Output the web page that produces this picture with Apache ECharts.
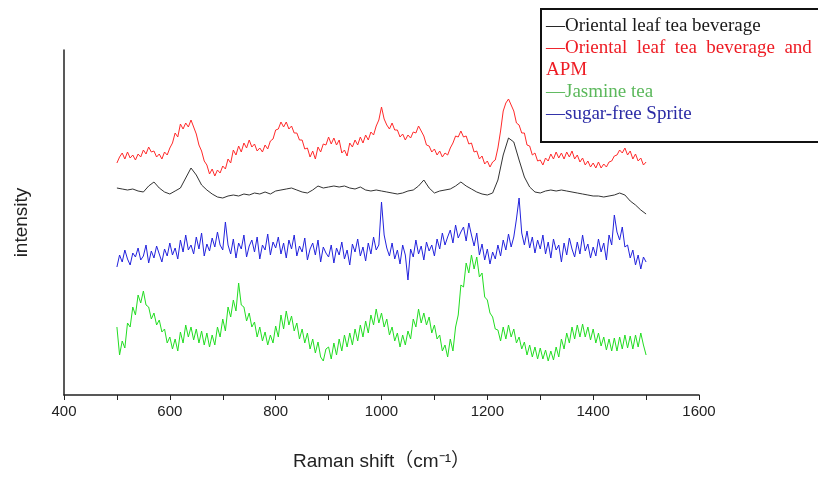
<!DOCTYPE html>
<html>
<head>
<meta charset="utf-8">
<title>Raman spectra</title>
<script src="https://cdn.jsdelivr.net/npm/echarts@6/dist/echarts.min.js"></script>
<style>
    html, body { margin: 0; padding: 0; background: #fff; }
    #chart { width: 818px; height: 477px; }
</style>
</head>
<body>
<div id="chart"></div>
<script>
// x 轴: Raman shift, 500 ~ 1500 cm-1
const shiftStart = 500;
const fineStep = 5;     // 红/蓝/绿 三条曲线的采样间隔
const coarseStep = 10;  // 黑色曲线的采样间隔

// Oriental leaf tea beverage (黑色, 每 10 cm-1)
const leafTea = [
    207, 206, 205, 206, 204, 203, 209, 213, 207, 203,
    201, 204, 207, 217, 227, 220, 210, 205, 201, 198,
    197, 199, 200, 199, 201, 200, 202, 201, 203, 201,
    204, 205, 206, 207, 205, 203, 202, 205, 209, 207,
    208, 209, 208, 209, 207, 206, 208, 205, 204, 205,
    204, 203, 202, 201, 202, 204, 205, 209, 215, 207,
    202, 204, 205, 206, 209, 213, 209, 206, 203, 201,
    200, 202, 215, 240, 257, 253, 235, 218, 208, 203,
    202, 204, 205, 204, 205, 204, 203, 202, 201, 200,
    199, 199, 198, 199, 200, 202, 200, 194, 190, 185,
    181
];

// Oriental leaf tea beverage and APM (红色, 每 5 cm-1)
const leafTeaApm = [
    232, 238, 242, 236, 243, 237, 240, 235, 241, 238, 245, 241, 248, 243, 244, 238, 241, 236, 243, 240,
    247, 252, 262, 258, 271, 266, 272, 268, 275, 268, 261, 250, 244, 234, 230, 221, 226, 219, 225, 222,
    229, 226, 236, 232, 245, 240, 249, 243, 252, 247, 255, 248, 251, 244, 247, 243, 250, 246, 254, 256,
    265, 266, 273, 268, 273, 266, 269, 262, 262, 255, 255, 246, 247, 238, 244, 236, 248, 243, 251, 250,
    258, 251, 257, 250, 255, 242, 245, 239, 252, 248, 255, 250, 258, 252, 260, 255, 263, 260, 269, 275,
    288, 276, 270, 266, 272, 265, 265, 258, 261, 255, 260, 257, 263, 262, 269, 264, 259, 250, 249, 243,
    246, 240, 244, 238, 242, 240, 247, 252, 259, 258, 264, 258, 259, 251, 252, 243, 244, 236, 239, 231,
    234, 228, 233, 235, 247, 264, 284, 292, 296, 290, 284, 272, 270, 262, 262, 250, 249, 240, 242, 234,
    235, 230, 237, 234, 241, 236, 243, 237, 242, 236, 243, 238, 244, 236, 240, 233, 237, 230, 234, 228,
    232, 227, 233, 227, 231, 228, 233, 234, 239, 240, 245, 242, 247, 240, 244, 236, 241, 234, 237, 230,
    233
];

// sugar-free Sprite (蓝色, 每 5 cm-1)
const sprite = [
    128, 140, 133, 145, 136, 130, 142, 138, 147, 135, 139, 150, 132, 144, 137, 149, 141, 133, 146, 139,
    152, 140, 147, 136, 155, 143, 160, 145, 150, 141, 158, 146, 162, 139, 151, 144, 157, 148, 163, 150,
    145, 173, 150, 141, 156, 137, 152, 146, 160, 138, 149, 155, 143, 158, 136, 150, 145, 161, 140, 153,
    147, 158, 141, 152, 137, 155, 146, 160, 139, 149, 143, 157, 135, 146, 152, 140, 155, 133, 148, 142,
    138, 150, 132, 147, 140, 153, 136, 145, 130, 151, 143, 156, 139, 148, 134, 152, 141, 158, 145, 150,
    193, 160, 147, 139, 152, 136, 145, 131, 150, 140, 115, 146, 138, 155, 141, 149, 135, 153, 144, 150,
    139, 156, 146, 162, 150, 158, 165, 152, 170, 157, 163, 168, 154, 172, 160, 149, 162, 140, 151, 135,
    146, 131, 143, 136, 150, 139, 155, 145, 161, 148, 158, 176, 197, 162, 150, 164, 147, 158, 142, 155,
    146, 160, 141, 153, 137, 156, 145, 150, 133, 152, 140, 157, 146, 138, 153, 141, 160, 144, 151, 137,
    148, 139, 156, 143, 152, 135, 160, 150, 180, 163, 155, 168, 148, 150, 137, 145, 130, 140, 126, 138,
    133
];

// Jasmine tea (绿色, 每 5 cm-1)
const jasmine = [
    68, 40, 54, 47, 72, 68, 88, 80, 100, 92, 104, 90, 88, 76, 82, 70, 75, 63, 66, 52,
    58, 46, 56, 44, 63, 52, 70, 58, 68, 55, 66, 52, 64, 50, 62, 48, 60, 50, 68, 58,
    76, 64, 88, 78, 95, 84, 112, 90, 88, 74, 82, 68, 73, 58, 68, 54, 63, 50, 60, 52,
    69, 58, 80, 66, 84, 70, 79, 64, 72, 56, 66, 52, 62, 46, 56, 42, 53, 38, 34, 46,
    48, 36, 52, 40, 56, 44, 60, 48, 62, 50, 66, 54, 70, 58, 74, 62, 80, 70, 86, 72,
    82, 68, 76, 60, 68, 54, 62, 48, 60, 50, 64, 56, 76, 68, 86, 72, 82, 70, 78, 62,
    70, 56, 60, 44, 50, 38, 56, 44, 68, 80, 110, 108, 132, 122, 140, 126, 138, 118, 122, 98,
    95, 82, 78, 66, 65, 54, 68, 56, 70, 58, 66, 52, 58, 46, 53, 40, 50, 38, 48, 36,
    47, 36, 45, 34, 44, 35, 48, 38, 56, 46, 62, 52, 68, 56, 70, 58, 71, 58, 68, 55,
    66, 52, 62, 49, 58, 45, 56, 44, 57, 44, 58, 46, 60, 47, 59, 46, 60, 48, 62, 50,
    40
];

// 图例文字 (原图中为一个带框的文本块)
const legendLines = [
    { text: '—Oriental leaf tea beverage', color: '#1a1a1a' },
    { text: '—Oriental  leaf  tea  beverage  and', color: '#ee1c24' },
    { text: 'APM', color: '#ee1c24' },
    { text: '—Jasmine tea', color: '#5bb85b' },
    { text: '—sugar-free Sprite', color: '#2b2ba6' }
];

// 把强度数组和位移配对
function toPairs(values, step) {
    return values.map(function(v, i) {
        return [shiftStart + i * step, v];
    });
}

function lineSeries(name, values, step, color) {
    return {
        name: name,
        type: 'line',
        data: toPairs(values, step),
        showSymbol: false,
        animation: false,
        lineStyle: { color: color, width: 1 },
        itemStyle: { color: color }
    };
}

const chart = echarts.init(document.getElementById('chart'));

const axisFont = '"Liberation Sans Narrow", "Liberation Sans", Arial, sans-serif';
const serifFont = '"Liberation Serif", "Times New Roman", serif';

const legendGraphics = legendLines.map(function(line, i) {
    const tops = [17, 39, 61, 83, 105];
    return {
        type: 'text',
        left: 546,
        top: tops[i],
        z: 11,
        style: {
            text: line.text,
            fill: line.color,
            font: '19px ' + serifFont
        }
    };
});

const option = {
    backgroundColor: '#fff',
    grid: { left: 64, right: 119, top: 50, bottom: 82 },
    xAxis: {
        type: 'value',
        min: 400,
        max: 1600,
        interval: 200,
        name: 'Raman shift（cm⁻¹）',
        nameLocation: 'middle',
        nameGap: 57,
        nameTextStyle: {
            fontSize: 19,
            color: '#222',
            fontFamily: '"Liberation Sans", "Noto Sans CJK SC", sans-serif'
        },
        axisLine: { lineStyle: { color: '#222', width: 1.5 } },
        axisTick: { inside: false, length: 5, lineStyle: { color: '#222' } },
        minorTick: { show: true, splitNumber: 2, length: 5, lineStyle: { color: '#222' } },
        axisLabel: {
            fontSize: 15,
            color: '#222',
            margin: 9,
            fontFamily: axisFont,
            formatter: function(v) { return String(v); }
        },
        splitLine: { show: false }
    },
    yAxis: {
        type: 'value',
        min: 0,
        max: 345,
        name: 'intensity',
        nameLocation: 'middle',
        nameGap: 33,
        nameTextStyle: { fontSize: 19, color: '#222', fontFamily: axisFont },
        axisLine: { show: true, lineStyle: { color: '#222', width: 1.5 } },
        axisTick: { show: false },
        axisLabel: { show: false },
        splitLine: { show: false }
    },
    graphic: [
        {
            type: 'rect',
            left: 540,
            top: 8,
            z: 10,
            shape: { width: 290, height: 133 },
            style: { fill: '#fff', stroke: '#111', lineWidth: 2 }
        }
    ].concat(legendGraphics),
    series: [
        lineSeries('Oriental leaf tea beverage', leafTea, coarseStep, '#333333'),
        lineSeries('Oriental leaf tea beverage and APM', leafTeaApm, fineStep, '#ff2a2a'),
        lineSeries('Jasmine tea', jasmine, fineStep, '#22dd22'),
        lineSeries('sugar-free Sprite', sprite, fineStep, '#2222dd')
    ]
};

chart.setOption(option);
</script>
</body>
</html>
